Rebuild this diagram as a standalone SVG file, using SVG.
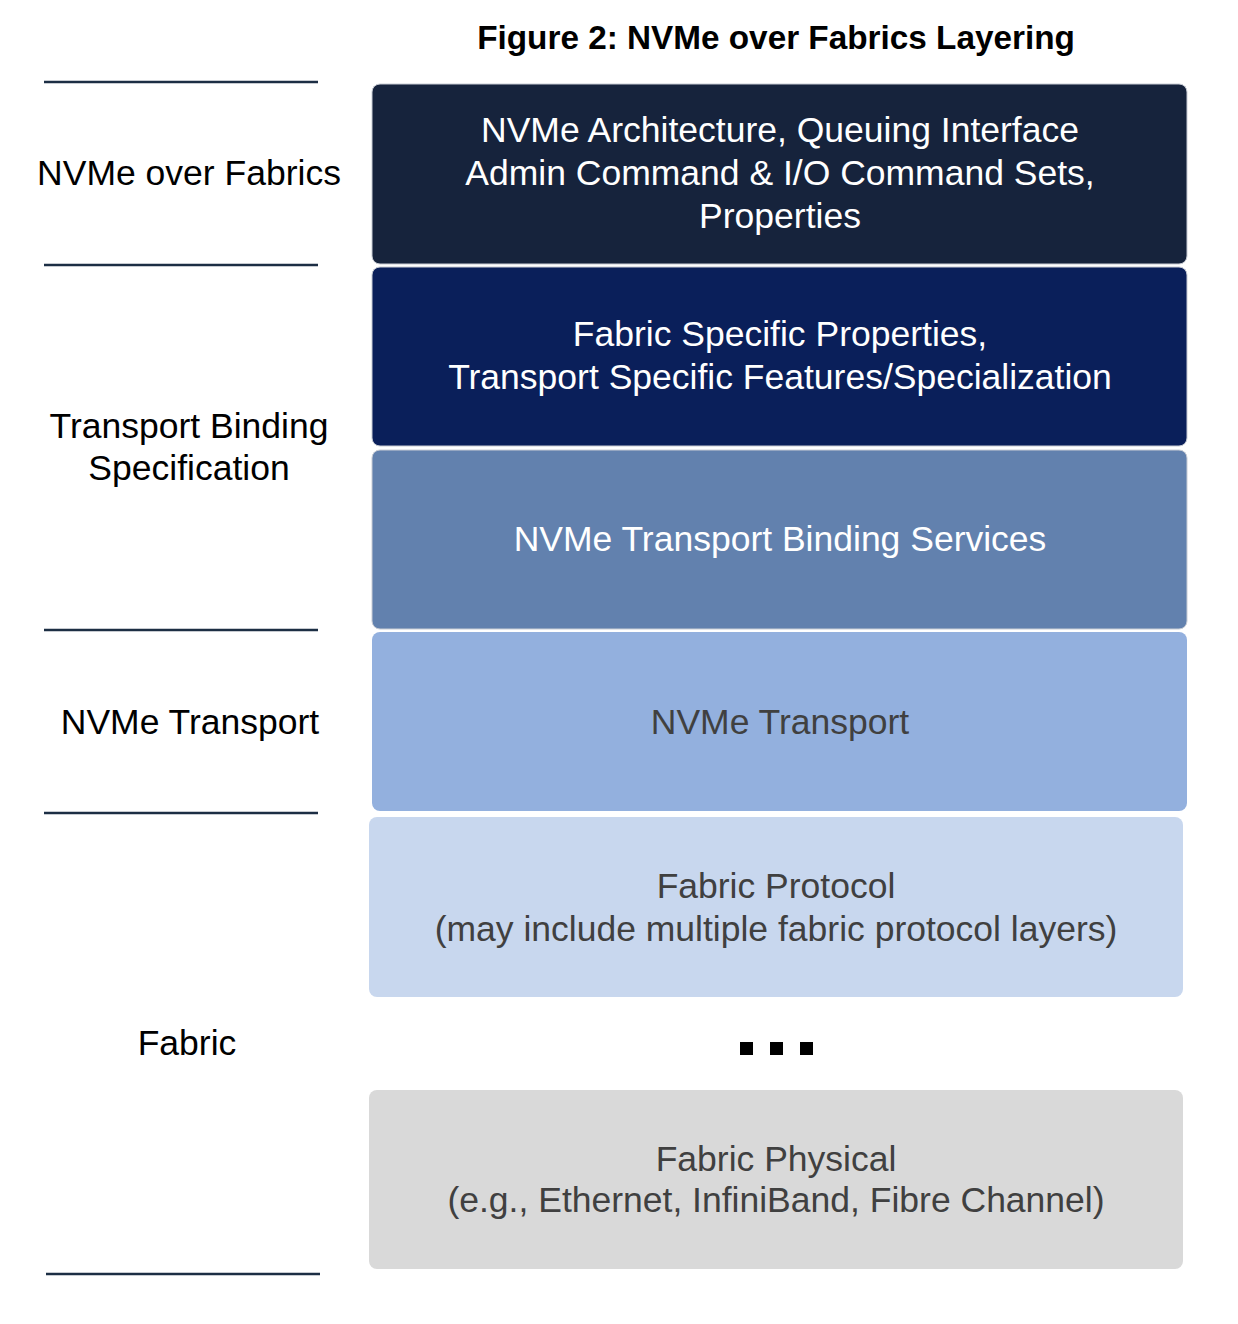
<svg xmlns="http://www.w3.org/2000/svg" width="1238" height="1324" viewBox="0 0 1238 1324">
<style>
text{font-family:"Liberation Sans",Arial,Helvetica,sans-serif;font-size:35.5px;text-anchor:middle}
.title{font-weight:bold;font-size:33.3px;fill:#000}
.lbl{fill:#000}
.w{fill:#ffffff}
.d{fill:#404040}
.sep{stroke:#1c2e44;stroke-width:2.5;fill:none}
.box{stroke:#c8ccd4;stroke-width:1}
</style>
<rect width="1238" height="1324" fill="#ffffff"/>
<text class="title" x="776" y="49">Figure 2: NVMe over Fabrics Layering</text>
<g id="separators">
<line class="sep" x1="44" y1="82" x2="318" y2="82"/>
<line class="sep" x1="44" y1="265" x2="318" y2="265"/>
<line class="sep" x1="44" y1="630" x2="318" y2="630"/>
<line class="sep" x1="44" y1="813" x2="318" y2="813"/>
<line class="sep" x1="46" y1="1274" x2="320" y2="1274"/>
</g>
<g id="labels">
<text class="lbl" x="189" y="185">NVMe over Fabrics</text>
<text class="lbl" x="189" y="438">Transport Binding</text>
<text class="lbl" x="189" y="480">Specification</text>
<text class="lbl" x="190" y="734">NVMe Transport</text>
<text class="lbl" x="187" y="1055">Fabric</text>
</g>
<g id="n1">
<rect class="box" x="372" y="84" width="815" height="180" rx="8" fill="#16233c"/>
<text class="w" x="780" y="142">NVMe Architecture, Queuing Interface</text>
<text class="w" x="780" y="185">Admin Command &amp; I/O Command Sets,</text>
<text class="w" x="780" y="228">Properties</text>
</g>
<g id="n2">
<rect class="box" x="372" y="267" width="815" height="179" rx="8" fill="#0a1f5a"/>
<text class="w" x="780" y="346">Fabric Specific Properties,</text>
<text class="w" x="780" y="389">Transport Specific Features/Specialization</text>
</g>
<g id="n3">
<rect class="box" x="372" y="450" width="815" height="179" rx="8" fill="#6281ae"/>
<text class="w" x="780" y="551">NVMe Transport Binding Services</text>
</g>
<g id="n4">
<rect x="372" y="632" width="815" height="179" rx="8" fill="#93b0de"/>
<text class="d" x="780" y="734">NVMe Transport</text>
</g>
<g id="n5">
<rect x="369" y="817" width="814" height="180" rx="8" fill="#c8d7ee"/>
<text class="d" x="776" y="898">Fabric Protocol</text>
<text class="d" x="776" y="941">(may include multiple fabric protocol layers)</text>
</g>
<g id="dots">
<rect x="740" y="1042" width="13" height="13" fill="#000"/>
<rect x="770" y="1042" width="13" height="13" fill="#000"/>
<rect x="800" y="1042" width="13" height="13" fill="#000"/>
</g>
<g id="n6">
<rect x="369" y="1090" width="814" height="179" rx="8" fill="#d9d9d9"/>
<text class="d" x="776" y="1171">Fabric Physical</text>
<text class="d" x="776" y="1212">(e.g., Ethernet, InfiniBand, Fibre Channel)</text>
</g>
<g id="connectors"></g>
</svg>
